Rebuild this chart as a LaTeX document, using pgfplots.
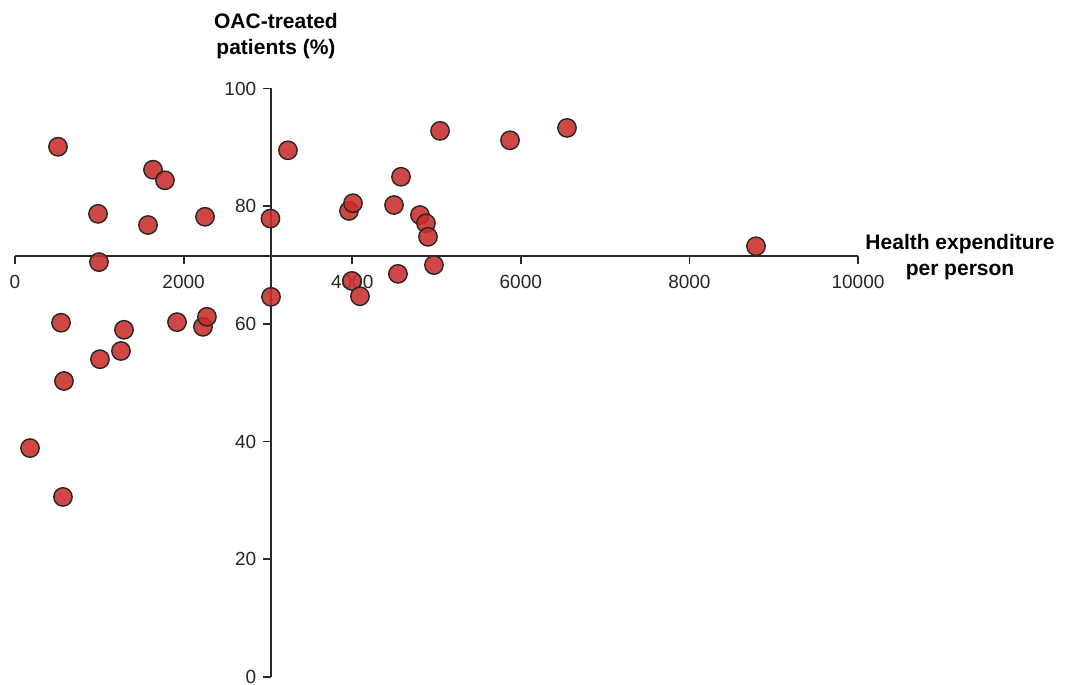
\documentclass[border=0pt]{standalone}
\usepackage{pgfplots}
\pgfplotsset{compat=1.18}
\usepackage{fontspec}
\setmainfont{Liberation Sans}
\definecolor{dotred}{RGB}{200,46,42}
\definecolor{axisgray}{RGB}{40,40,40}
\begin{document}
\begin{tikzpicture}
\useasboundingbox (-7.5pt,-4pt) rectangle (528pt,338.5pt);
\begin{axis}[
  scale only axis,
  width=421.5pt, height=294.25pt,
  xmin=0, xmax=10000, ymin=0, ymax=100,
  clip=false,
  axis x line*=bottom, axis y line*=left,
  axis x line shift=-210.4pt,
  axis y line shift=-128.1pt,
  axis line style={axisgray, line width=0.9pt},
  tick style={axisgray, line width=0.9pt},
  tick align=outside,
  major tick length=4pt,
  xtick={0,2000,4000,6000,8000,10000},
  ytick={0,20,40,60,80,100},
  scaled x ticks=false,
  minor tick num=0,
  /pgf/number format/1000 sep={},
  /pgf/number format/assume math mode=true,
  tick label style={font=\fontsize{9.5}{11}\selectfont, text=black!85},
  xticklabel style={yshift=-2pt},
]
\addplot[only marks, mark=*, mark size=4.6pt,
  mark options={fill=dotred, draw=black!85, line width=0.7pt, fill opacity=0.88}]
  table[row sep=\\] {
x y\\
510 90.1\\
985 78.7\\
996 70.5\\
1637 86.2\\
1779 84.4\\
1578 76.8\\
2254 78.2\\
3030 77.9\\
3238 89.5\\
546 60.2\\
581 50.3\\
178 38.9\\
569 30.6\\
1008 54.0\\
1257 55.4\\
1293 59.0\\
1922 60.3\\
2230 59.5\\
2277 61.2\\
3037 64.6\\
3962 79.2\\
4009 80.5\\
3997 67.3\\
4092 64.7\\
4496 80.2\\
4579 85.0\\
4543 68.5\\
4804 78.5\\
4875 77.1\\
4899 74.8\\
4970 70.0\\
5042 92.8\\
5872 91.2\\
6548 93.3\\
8790 73.2\\
};
\node[font=\fontsize{10.5}{13}\selectfont\bfseries, align=center] at (rel axis cs:1.121,0.714) {Health expenditure\\per person};
\node[font=\fontsize{10.5}{13}\selectfont\bfseries, align=center] at (rel axis cs:0.3096,1.089) {OAC-treated\\patients (\%)};
\end{axis}
\end{tikzpicture}
\end{document}
